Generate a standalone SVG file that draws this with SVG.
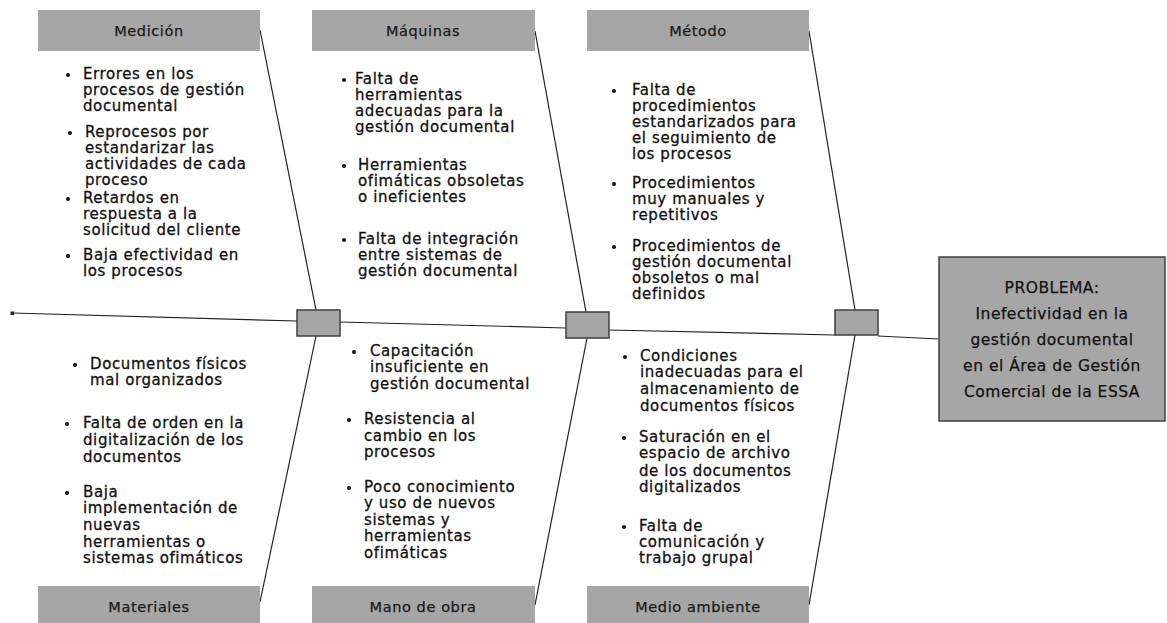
<svg xmlns="http://www.w3.org/2000/svg" width="1167" height="623" viewBox="0 0 1167 623">
<style>
.hdr{fill:#a6a6a6;stroke:none}
.hl{font-family:"DejaVu Sans",sans-serif;font-size:14.5px;fill:#1a1a1a;stroke:#1a1a1a;stroke-width:0.25;text-anchor:middle;letter-spacing:0.6px}
.t{font-family:"DejaVu Sans",sans-serif;font-size:15px;fill:#111;stroke:#111;stroke-width:0.3;letter-spacing:0.6px}
.b{fill:#111}
.box{fill:#a6a6a6;stroke:#404040;stroke-width:1.5}
.ln{stroke:#222;stroke-width:1.2;fill:none}
.pt{font-family:"DejaVu Sans",sans-serif;font-size:15.5px;fill:#111;stroke:#111;stroke-width:0.25;text-anchor:middle;letter-spacing:0.5px}
</style>
<rect width="1167" height="623" fill="#fff"/>
<g id="connectors">
<path class="ln" d="M12,313 L297,321"/>
<path class="ln" d="M340,322 L566,328"/>
<path class="ln" d="M609,330 L835,335"/>
<path class="ln" d="M878,336 L939,339"/>
<path class="ln" d="M260,30 L316,310"/>
<path class="ln" d="M316,336 L260,602"/>
<path class="ln" d="M535,31 L586,312"/>
<path class="ln" d="M587,338 L535,605"/>
<path class="ln" d="M809,31 L855,310"/>
<path class="ln" d="M855,335 L809,605"/>
<rect x="10.5" y="311.5" width="3.5" height="3.5" fill="#222"/>
</g>
<g id="joint1"><rect class="box" x="297" y="310" width="43" height="26"/></g>
<g id="joint2"><rect class="box" x="566" y="312" width="43" height="26"/></g>
<g id="joint3"><rect class="box" x="835" y="310" width="43" height="25"/></g>
<g id="problem">
<rect class="box" x="939" y="257" width="226" height="164"/>
<text class="pt" x="1052" y="293">PROBLEMA:</text>
<text class="pt" x="1052" y="319">Inefectividad en la</text>
<text class="pt" x="1052" y="345">gestión documental</text>
<text class="pt" x="1052" y="371">en el Área de Gestión</text>
<text class="pt" x="1052" y="397">Comercial de la ESSA</text>
</g>
<g id="medicion">
<rect class="hdr" x="38" y="10" width="222" height="41"/>
<text class="hl" x="149" y="36">Medición</text>
<circle class="b" cx="68" cy="75" r="2"/>
<text class="t" x="83" y="79">Errores en los</text>
<text class="t" x="83" y="95">procesos de gestión</text>
<text class="t" x="83" y="111">documental</text>
<circle class="b" cx="70" cy="133" r="2"/>
<text class="t" x="85" y="137">Reprocesos por</text>
<text class="t" x="85" y="153">estandarizar las</text>
<text class="t" x="85" y="169">actividades de cada</text>
<text class="t" x="85" y="185">proceso</text>
<circle class="b" cx="68" cy="199" r="2"/>
<text class="t" x="83" y="203">Retardos en</text>
<text class="t" x="83" y="219">respuesta a la</text>
<text class="t" x="83" y="235">solicitud del cliente</text>
<circle class="b" cx="68" cy="256" r="2"/>
<text class="t" x="83" y="260">Baja efectividad en</text>
<text class="t" x="83" y="276">los procesos</text>
</g>
<g id="maquinas">
<rect class="hdr" x="312" y="10" width="223" height="41"/>
<text class="hl" x="423" y="36">Máquinas</text>
<circle class="b" cx="344" cy="80" r="2"/>
<text class="t" x="355" y="84">Falta de</text>
<text class="t" x="355" y="100">herramientas</text>
<text class="t" x="355" y="116">adecuadas para la</text>
<text class="t" x="355" y="132">gestión documental</text>
<circle class="b" cx="344" cy="166" r="2"/>
<text class="t" x="358" y="170">Herramientas</text>
<text class="t" x="358" y="186">ofimáticas obsoletas</text>
<text class="t" x="358" y="202">o ineficientes</text>
<circle class="b" cx="344" cy="240" r="2"/>
<text class="t" x="358" y="244">Falta de integración</text>
<text class="t" x="358" y="260">entre sistemas de</text>
<text class="t" x="358" y="276">gestión documental</text>
</g>
<g id="metodo">
<rect class="hdr" x="587" y="10" width="222" height="41"/>
<text class="hl" x="698" y="36">Método</text>
<circle class="b" cx="614" cy="91" r="2"/>
<text class="t" x="632" y="95">Falta de</text>
<text class="t" x="632" y="111">procedimientos</text>
<text class="t" x="632" y="127">estandarizados para</text>
<text class="t" x="632" y="143">el seguimiento de</text>
<text class="t" x="632" y="159">los procesos</text>
<circle class="b" cx="614" cy="184" r="2"/>
<text class="t" x="632" y="188">Procedimientos</text>
<text class="t" x="632" y="204">muy manuales y</text>
<text class="t" x="632" y="220">repetitivos</text>
<circle class="b" cx="614" cy="247" r="2"/>
<text class="t" x="632" y="251">Procedimientos de</text>
<text class="t" x="632" y="267">gestión documental</text>
<text class="t" x="632" y="283">obsoletos o mal</text>
<text class="t" x="632" y="299">definidos</text>
</g>
<g id="materiales">
<rect class="hdr" x="38" y="586" width="222" height="40"/>
<text class="hl" x="149" y="612">Materiales</text>
<circle class="b" cx="75" cy="365" r="2"/>
<text class="t" x="90" y="369">Documentos físicos</text>
<text class="t" x="90" y="385">mal organizados</text>
<circle class="b" cx="67" cy="424" r="2"/>
<text class="t" x="83" y="428">Falta de orden en la</text>
<text class="t" x="83" y="445">digitalización de los</text>
<text class="t" x="83" y="462">documentos</text>
<circle class="b" cx="67" cy="493" r="2"/>
<text class="t" x="83" y="497">Baja</text>
<text class="t" x="83" y="513">implementación de</text>
<text class="t" x="83" y="530">nuevas</text>
<text class="t" x="83" y="547">herramientas o</text>
<text class="t" x="83" y="563">sistemas ofimáticos</text>
</g>
<g id="manodeobra">
<rect class="hdr" x="312" y="586" width="223" height="40"/>
<text class="hl" x="423" y="612">Mano de obra</text>
<circle class="b" cx="354" cy="352" r="2"/>
<text class="t" x="370" y="356">Capacitación</text>
<text class="t" x="370" y="372">insuficiente en</text>
<text class="t" x="370" y="389">gestión documental</text>
<circle class="b" cx="349" cy="420" r="2"/>
<text class="t" x="364" y="424">Resistencia al</text>
<text class="t" x="364" y="441">cambio en los</text>
<text class="t" x="364" y="457">procesos</text>
<circle class="b" cx="349" cy="488" r="2"/>
<text class="t" x="364" y="492">Poco conocimiento</text>
<text class="t" x="364" y="508">y uso de nuevos</text>
<text class="t" x="364" y="525">sistemas y</text>
<text class="t" x="364" y="541">herramientas</text>
<text class="t" x="364" y="558">ofimáticas</text>
</g>
<g id="medioambiente">
<rect class="hdr" x="587" y="586" width="222" height="40"/>
<text class="hl" x="698" y="612">Medio ambiente</text>
<circle class="b" cx="625" cy="357" r="2"/>
<text class="t" x="640" y="361">Condiciones</text>
<text class="t" x="640" y="377">inadecuadas para el</text>
<text class="t" x="640" y="394">almacenamiento de</text>
<text class="t" x="640" y="411">documentos físicos</text>
<circle class="b" cx="624" cy="438" r="2"/>
<text class="t" x="639" y="442">Saturación en el</text>
<text class="t" x="639" y="458">espacio de archivo</text>
<text class="t" x="639" y="476">de los documentos</text>
<text class="t" x="639" y="492">digitalizados</text>
<circle class="b" cx="624" cy="527" r="2"/>
<text class="t" x="639" y="531">Falta de</text>
<text class="t" x="639" y="547">comunicación y</text>
<text class="t" x="639" y="563">trabajo grupal</text>
</g>
</svg>
